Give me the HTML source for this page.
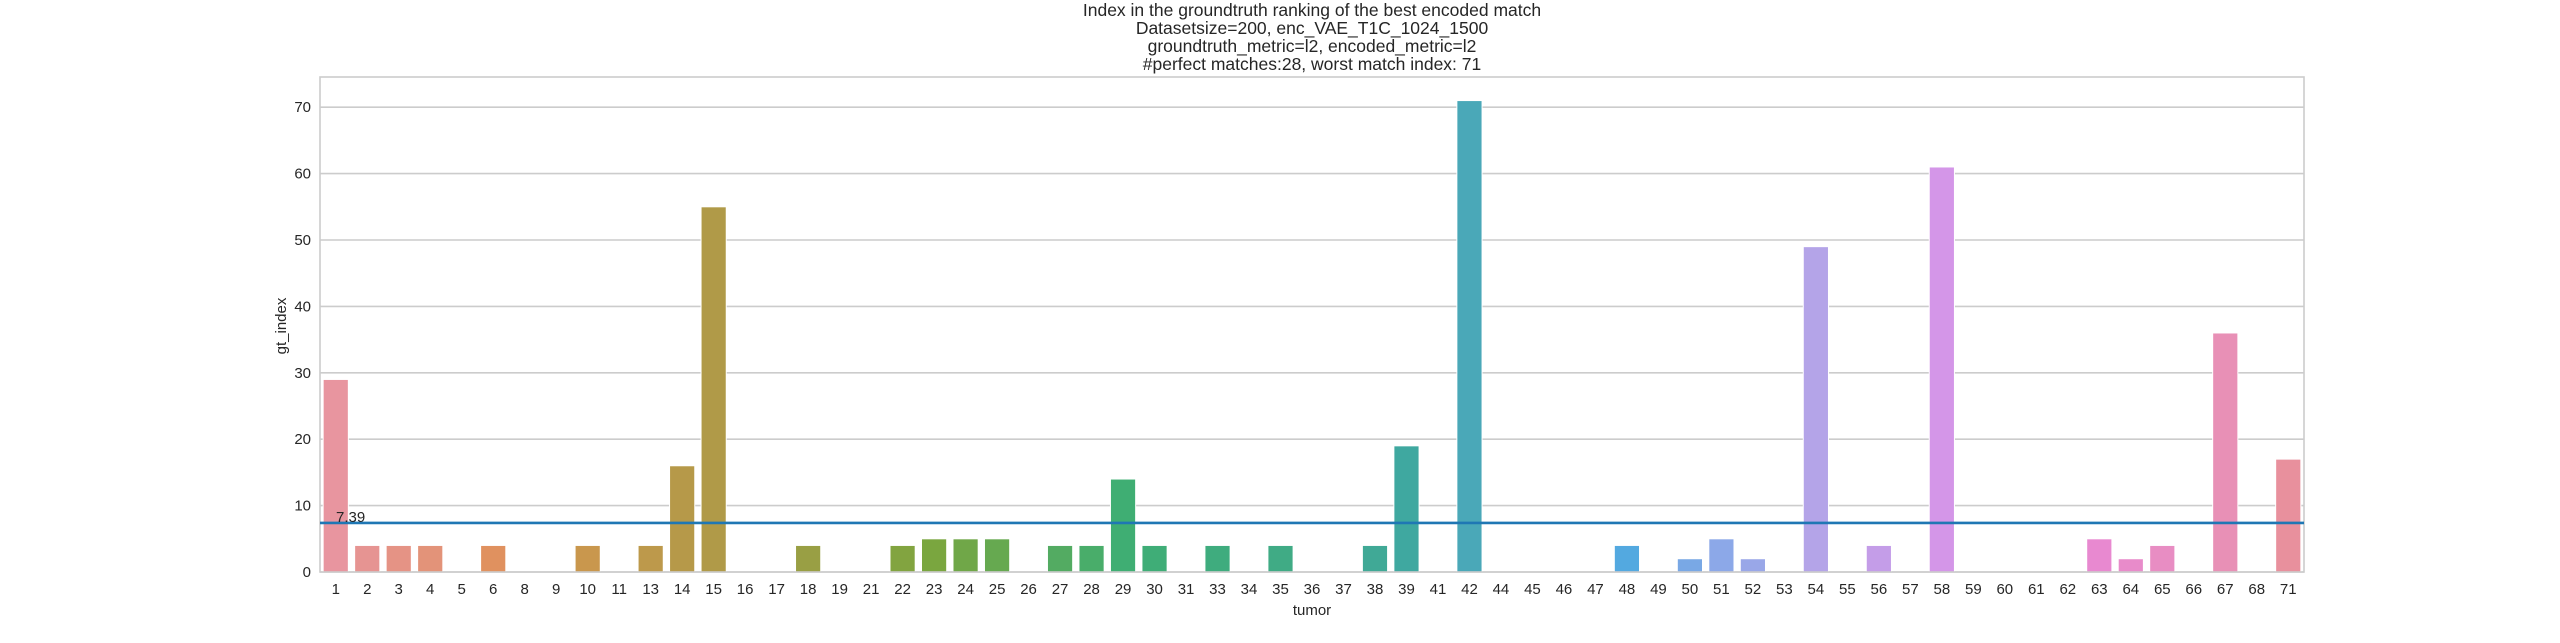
<!DOCTYPE html>
<html><head><meta charset="utf-8"><style>
html,body{margin:0;padding:0;background:#fff;}
svg{display:block;font-family:"Liberation Sans",Arial,sans-serif;}
</style></head><body>
<svg id="chart" width="2560" height="643" xmlns="http://www.w3.org/2000/svg">
<rect width="2560" height="643" fill="#fff"/>
<g font-size="17.5" fill="#262626" text-anchor="middle">
<text x="1312" y="16">Index in the groundtruth ranking of the best encoded match</text>
<text x="1312" y="34">Datasetsize=200, enc_VAE_T1C_1024_1500</text>
<text x="1312" y="52">groundtruth_metric=l2, encoded_metric=l2</text>
<text x="1312" y="70">#perfect matches:28, worst match index: 71</text>
</g>
<g id="grid"></g><g id="bars"></g><g id="ticks"></g>
<text transform="translate(286,326) rotate(-90)" text-anchor="middle" font-size="15" fill="#262626">gt_index</text>
<text x="1312" y="615" text-anchor="middle" font-size="15" fill="#262626">tumor</text>
</svg>
<script>
const categories=["1","2","3","4","5","6","8","9","10","11","13","14","15","16","17","18","19","21","22","23","24","25","26","27","28","29","30","31","33","34","35","36","37","38","39","41","42","44","45","46","47","48","49","50","51","52","53","54","55","56","57","58","59","60","61","62","63","64","65","66","67","68","71"];
const values=[29,4,4,4,0,4,0,0,4,0,4,16,55,0,0,4,0,0,4,5,5,5,0,4,4,14,4,0,4,0,4,0,0,4,19,0,71,0,0,0,0,4,0,2,5,2,0,49,0,4,0,61,0,0,0,0,5,2,4,0,36,0,17];
const yTicks=[0,10,20,30,40,50,60,70];
const meanValue=7.39;
const meanLabel="7.39";

const L=320,R=2304,T=77,B=572,YMAX=74.55;
const NS="http://www.w3.org/2000/svg";
const band=(R-L)/categories.length;
const xC=i=>L+band*(i+0.5);
const y=v=>B-(v/YMAX)*(B-T);
const svg=document.getElementById('chart');
function mk(tag,attrs,parent){const e=document.createElementNS(NS,tag);for(const k in attrs)e.setAttribute(k,attrs[k]);parent.appendChild(e);return e;}
const anchors=[[0,[232,149,159]],[5,[224,145,95]],[8,[201,151,77]],[12,[176,154,72]],[19,[122,166,63]],[25,[63,174,115]],[32,[64,170,140]],[34,[63,168,160]],[36,[74,168,184]],[41,[83,169,224]],[44,[140,168,232]],[47,[180,164,232]],[51,[212,150,232]],[56,[232,137,208]],[60,[232,144,182]],[62,[232,144,157]]];
function col(i){let a=0;while(a<anchors.length-2&&anchors[a+1][0]<=i)a++;const [i0,c0]=anchors[a],[i1,c1]=anchors[a+1];const t=Math.min(1,Math.max(0,(i-i0)/(i1-i0)));const c=c0.map((v,k)=>Math.round(v+(c1[k]-v)*t));return `rgb(${c[0]},${c[1]},${c[2]})`;}
const grid=document.getElementById('grid'),bars=document.getElementById('bars'),ticks=document.getElementById('ticks');
yTicks.forEach(t=>{
 const g=mk('line',{x1:L,x2:R,y1:y(t),y2:y(t),stroke:'#cccccc','stroke-width':1.6},grid);
 
 
 const tx=mk('text',{x:L-9,y:y(t)+5,'text-anchor':'end','font-size':15,fill:'#262626'},ticks);
 tx.textContent=t;
 
 
});
categories.forEach((c,i)=>{
 const w=band*0.8,h=B-y(values[i]);
 if(h>0){const r=mk('rect',{x:xC(i)-w/2,y:y(values[i]),width:w,height:h,fill:col(i),stroke:'#fff','stroke-width':1},bars);
 
 }
 const tx=mk('text',{x:xC(i),y:594,'text-anchor':'middle','font-size':15,fill:'#262626'},ticks);
 tx.textContent=c;
 
 
});
const fr=mk('rect',{x:L,y:T,width:R-L,height:B-T,fill:'none',stroke:'#cccccc','stroke-width':1.6},svg);


const ml=mk('line',{x1:L,x2:R,y1:y(meanValue),y2:y(meanValue),stroke:'#1f77b4','stroke-width':2.6},svg);


const mt=mk('text',{x:336,y:y(meanValue)-1,'font-size':15,fill:'#262626'},svg);
mt.textContent=meanLabel;


</script>
</body></html>
